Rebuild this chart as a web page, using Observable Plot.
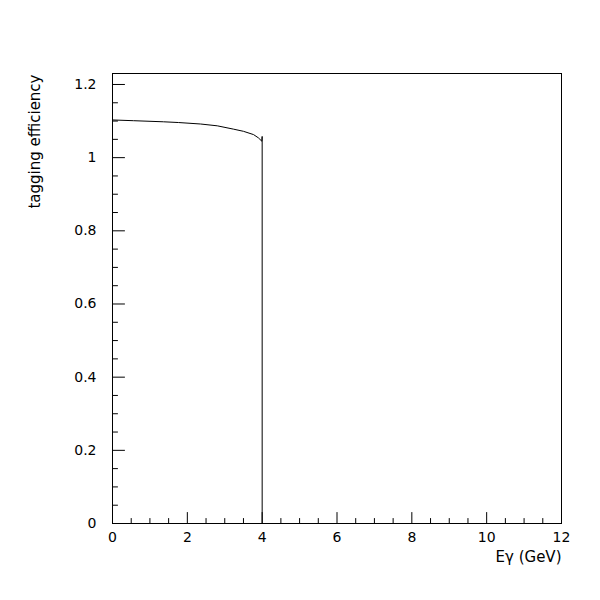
<!DOCTYPE html>
<html>
<head>
<meta charset="utf-8">
<script src="https://cdn.jsdelivr.net/npm/d3@7"></script>
<script src="https://cdn.jsdelivr.net/npm/@observablehq/plot@0.6"></script>
<style>
  html, body { margin: 0; padding: 0; background: #fff; }
</style>
</head>
<body>
<div id="chart"></div>
<script>
// Data
const energy = [0, 0.56, 1.36, 1.76, 2.35, 2.8, 3.23, 3.5, 3.77, 3.9, 3.99, 4.0, 4.0];
const efficiency = [1.103, 1.101, 1.098, 1.096, 1.092, 1.087, 1.078, 1.072, 1.063, 1.054, 1.045, 1.058, 0];

const xMajor = [0, 2, 4, 6, 8, 10, 12];
const xMinor = [0.5, 1, 1.5, 2.5, 3, 3.5, 4.5, 5, 5.5, 6.5, 7, 7.5, 8.5, 9, 9.5, 10.5, 11, 11.5];
const yMajor = [0, 0.2, 0.4, 0.6, 0.8, 1, 1.2];
const yMinor = [0.05, 0.1, 0.15, 0.25, 0.3, 0.35, 0.45, 0.5, 0.55, 0.65, 0.7, 0.75, 0.85, 0.9, 0.95, 1.05, 1.1, 1.15];

const xLabel = "Eγ (GeV)";
const yLabel = "tagging efficiency";

const curve = energy.map((e, i) => ({e, v: efficiency[i]}));

const lineShape = {
  draw(context, l) {
    context.moveTo(0, 0);
    context.lineTo(0, -l);
  }
};

const tickFmt = d => String(d);

const chart = Plot.plot({
  width: 600,
  height: 600,
  marginLeft: 112,
  marginRight: 39,
  marginTop: 73,
  marginBottom: 77,
  style: {fontFamily: "'DejaVu Sans', sans-serif", fontSize: "14px", color: "#000", background: "#fff"},
  x: {domain: [0, 12]},
  y: {domain: [0, 1.23]},
  marks: [
    Plot.frame({stroke: "#000", strokeWidth: 1}),
    Plot.axisX({ticks: xMajor, tickSize: 0, tickPadding: 9, tickFormat: tickFmt, label: null, fontSize: 14}),
    Plot.axisY({ticks: yMajor, tickSize: 0, tickPadding: 16, tickFormat: tickFmt, label: null, fontSize: 14}),
    // inward ticks on bottom axis
    Plot.vector(xMajor, {x: d => d, frameAnchor: "bottom", length: 11, rotate: 0, anchor: "start", shape: lineShape, stroke: "#000", strokeWidth: 1}),
    Plot.vector(xMinor, {x: d => d, frameAnchor: "bottom", length: 5, rotate: 0, anchor: "start", shape: lineShape, stroke: "#000", strokeWidth: 1}),
    // inward ticks on left axis
    Plot.vector(yMajor, {y: d => d, frameAnchor: "left", length: 12, rotate: 90, anchor: "start", shape: lineShape, stroke: "#000", strokeWidth: 1}),
    Plot.vector(yMinor, {y: d => d, frameAnchor: "left", length: 5, rotate: 90, anchor: "start", shape: lineShape, stroke: "#000", strokeWidth: 1}),
    Plot.line(curve, {x: "e", y: "v", stroke: "#000", strokeWidth: 1}),
    Plot.text([xLabel], {frameAnchor: "bottom-right", dy: 38, textAnchor: "end", fontSize: 15, fill: "#000"}),
    Plot.text([yLabel], {frameAnchor: "top-left", dx: -83, dy: 1, rotate: -90, textAnchor: "end", fontSize: 15, fill: "#000"})
  ]
});

document.getElementById("chart").appendChild(chart);
</script>
</body>
</html>
